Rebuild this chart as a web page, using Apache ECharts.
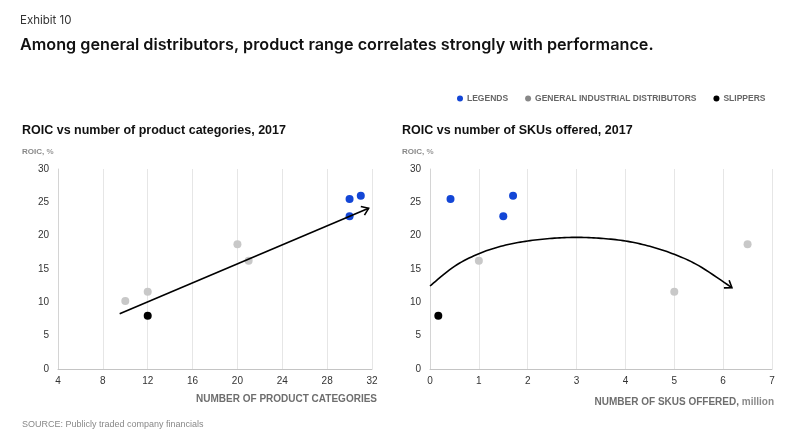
<!DOCTYPE html>
<html>
<head>
<meta charset="utf-8">
<script src="https://cdn.jsdelivr.net/npm/echarts@6/dist/echarts.min.js"></script>
<style>
  html, body { margin: 0; padding: 0; background: #fff; }
  #chart { width: 805px; height: 441px; }
</style>
</head>
<body>
<div id="chart"></div>
<script>
// ROIC, % for each company group
const legendsRoic = [25.5, 26.0, 22.9];
const generalRoic = [10.2, 11.6, 18.7, 16.25];
const slippersRoic = [8.0];

// number of product categories
const legendsCats = [30, 31, 30];
const generalCats = [10, 12, 20, 21];
const slippersCats = [12];

// number of SKUs offered, million (one general distributor not shown)
const legendsSkus = [0.42, 1.7, 1.5];
const generalSkus = [null, 5.0, 6.5, 1.0];
const slippersSkus = [0.17];

const catTicks = [4, 8, 12, 16, 20, 24, 28, 32];
const skuTicks = [0, 1, 2, 3, 4, 5, 6, 7];
const roicTicks = [0, 5, 10, 15, 20, 25, 30];

// trend annotations
const catTrend = [[9.5, 8.3], [31.7, 24.1]];
const skuArc = [
    [0, 12.45], [0.5, 15.4], [1, 17.3], [1.5, 18.5], [2, 19.2], [2.5, 19.6], [3, 19.75],
    [3.5, 19.6], [4, 19.2], [4.5, 18.4], [5, 17.2], [5.5, 15.5], [6.18, 12.2],
];

const BLUE = "#1346d6";
const GRAY = "#c8c8c8";
const BLACK = "#000000";
const FONT = "Liberation Sans, Arial, sans-serif";

const pairs = (xs, ys) => xs.map((x, i) => [x, ys[i]]).filter((p) => p[0] != null);

// catmull-rom through pixel points
function spline(pts, steps) {
    if (pts.length < 3) return pts;
    const out = [];
    for (let i = 0; i < pts.length - 1; i++) {
        const p0 = pts[Math.max(i - 1, 0)];
        const p1 = pts[i];
        const p2 = pts[i + 1];
        const p3 = pts[Math.min(i + 2, pts.length - 1)];
        for (let s = 0; s < steps; s++) {
            const t = s / steps, t2 = t * t, t3 = t2 * t;
            const f = (a, b, c, d) =>
                0.5 * (2 * b + (-a + c) * t + (2 * a - 5 * b + 4 * c - d) * t2 + (-a + 3 * b - 3 * c + d) * t3);
            out.push([f(p0[0], p1[0], p2[0], p3[0]), f(p0[1], p1[1], p2[1], p3[1])]);
        }
    }
    out.push(pts[pts.length - 1]);
    return out;
}

function arrowSeries(name, points, axisIdx) {
    return {
        name: name,
        type: "custom",
        xAxisIndex: axisIdx,
        yAxisIndex: axisIdx,
        silent: true,
        z: 5,
        data: [points[0]],
        renderItem: (params, api) => {
            const pts = spline(points.map((p) => api.coord(p)), 10);
            const a = pts[pts.length - 2];
            const b = pts[pts.length - 1];
            const ang = Math.atan2(b[1] - a[1], b[0] - a[0]);
            const len = 8;
            const spread = 0.62;
            const h1 = [b[0] - len * Math.cos(ang - spread), b[1] - len * Math.sin(ang - spread)];
            const h2 = [b[0] - len * Math.cos(ang + spread), b[1] - len * Math.sin(ang + spread)];
            const lineStyle = { stroke: "#000", lineWidth: 1.6, fill: null };
            return {
                type: "group",
                children: [
                    { type: "polyline", shape: { points: pts }, style: lineStyle },
                    { type: "polyline", shape: { points: [h1, b, h2] }, style: lineStyle },
                ],
            };
        },
    };
}

function xAxisCfg(ticks, gridIndex) {
    return {
        type: "value",
        gridIndex: gridIndex,
        min: ticks[0],
        max: ticks[ticks.length - 1],
        interval: ticks[1] - ticks[0],
        axisLine: { show: true, lineStyle: { color: "#c4c4c4", width: 1 } },
        axisTick: { show: false },
        axisLabel: { color: "#333", fontSize: 10, fontFamily: FONT, margin: 7 },
        splitLine: { show: true, lineStyle: { color: "#e6e6e6", width: 1 } },
    };
}

function yAxisCfg(gridIndex) {
    return {
        type: "value",
        gridIndex: gridIndex,
        min: roicTicks[0],
        max: roicTicks[roicTicks.length - 1],
        interval: 5,
        axisLine: { show: true, lineStyle: { color: "#d4d4d4", width: 1 } },
        axisTick: { show: false },
        axisLabel: { color: "#333", fontSize: 10, fontFamily: FONT, margin: 9 },
        splitLine: { show: false },
    };
}

function scatter(name, data, color, axisIdx) {
    return {
        name: name,
        type: "scatter",
        xAxisIndex: axisIdx,
        yAxisIndex: axisIdx,
        symbolSize: 8,
        z: 4,
        itemStyle: { color: color, opacity: 1 },
        data: data,
    };
}

const subTitle = { fontSize: 12.5, fontWeight: "bold", color: "#111", fontFamily: FONT };
const roicLabel = {
    rich: {
        b: { fontSize: 8, fontWeight: "bold", color: "#888", fontFamily: FONT },
        n: { fontSize: 8, color: "#999", fontFamily: FONT },
    },
};
const axisName = {
    fontSize: 10, fontWeight: "bold", color: "#6e6e6e", fontFamily: FONT,
    rich: {
        b: { fontSize: 10, fontWeight: "bold", color: "#6e6e6e", fontFamily: FONT },
        n: { fontSize: 10, color: "#8a8a8a", fontFamily: FONT },
    },
};

const option = {
    animation: false,
    backgroundColor: "#fff",
    title: [
        { text: "Exhibit 10", left: 20, top: 15, padding: 0,
          textStyle: { fontSize: 11.5, fontWeight: "normal", color: "#333", fontFamily: "Inter, sans-serif" } },
        { text: "Among general distributors, product range correlates strongly with performance.", left: 20, top: 37, padding: 0,
          textStyle: { fontSize: 16.2, fontWeight: 600, color: "#111", fontFamily: "Inter, sans-serif" } },
        { text: "ROIC vs number of product categories, 2017", left: 22, top: 124, padding: 0, textStyle: subTitle },
        { text: "ROIC vs number of SKUs offered, 2017", left: 402, top: 124, padding: 0, textStyle: subTitle },
        { text: "{b|ROIC,}{n| %}", left: 22, top: 148, padding: 0, textStyle: roicLabel },
        { text: "{b|ROIC,}{n| %}", left: 402, top: 148, padding: 0, textStyle: roicLabel },
        { text: "NUMBER OF PRODUCT CATEGORIES", right: 428, top: 394, padding: 0, textStyle: axisName },
        { text: "{b|NUMBER OF SKUS OFFERED,} {n|million}", right: 31, top: 397, padding: 0, textStyle: axisName },
        { text: "SOURCE: Publicly traded company financials", left: 22, top: 420, padding: 0,
          textStyle: { fontSize: 9, fontWeight: "normal", color: "#888", fontFamily: FONT } },
    ],
    legend: {
        left: 457,
        top: 94,
        icon: "circle",
        itemWidth: 6,
        itemHeight: 6,
        itemGap: 17,
        padding: 0,
        textStyle: { fontSize: 8.5, fontWeight: "bold", color: "#666", fontFamily: FONT, padding: [0, 0, 0, -1] },
        data: [
            { name: "LEGENDS", itemStyle: { color: BLUE } },
            { name: "GENERAL INDUSTRIAL DISTRIBUTORS", itemStyle: { color: "#888" } },
            { name: "SLIPPERS", itemStyle: { color: BLACK } },
        ],
    },
    grid: [
        { left: 58, right: 433, top: 169, bottom: 72 },
        { left: 430, right: 33, top: 169, bottom: 72 },
    ],
    xAxis: [xAxisCfg(catTicks, 0), xAxisCfg(skuTicks, 1)],
    yAxis: [yAxisCfg(0), yAxisCfg(1)],
    series: [
        scatter("LEGENDS", pairs(legendsCats, legendsRoic), BLUE, 0),
        scatter("GENERAL INDUSTRIAL DISTRIBUTORS", pairs(generalCats, generalRoic), GRAY, 0),
        scatter("SLIPPERS", pairs(slippersCats, slippersRoic), BLACK, 0),
        scatter("LEGENDS", pairs(legendsSkus, legendsRoic), BLUE, 1),
        scatter("GENERAL INDUSTRIAL DISTRIBUTORS", pairs(generalSkus, generalRoic), GRAY, 1),
        scatter("SLIPPERS", pairs(slippersSkus, slippersRoic), BLACK, 1),
        arrowSeries("catTrend", catTrend, 0),
        arrowSeries("skuArc", skuArc, 1),
    ],
};

const chart = echarts.init(document.getElementById("chart"));
chart.setOption(option);
</script>
</body>
</html>
